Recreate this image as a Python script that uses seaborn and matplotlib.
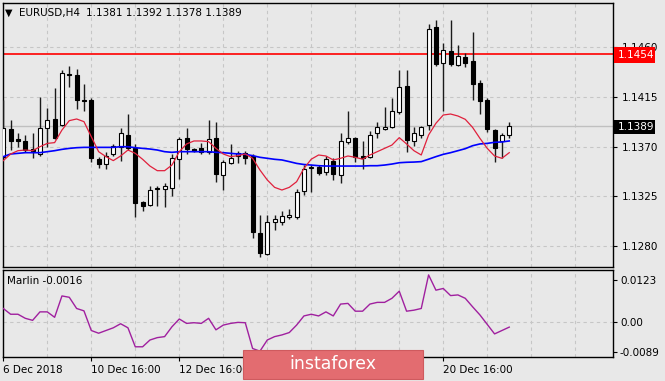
import numpy as np
import pandas as pd
import seaborn as sns
import matplotlib.pyplot as plt
from matplotlib.patches import Rectangle

# EURUSD H4 candles
opens = [1.1361, 1.1386, 1.1377, 1.1375, 1.1368, 1.1363, 1.1387, 1.1395, 1.1390, 1.1436,
         1.1435, 1.1412, 1.1412, 1.1359, 1.1354, 1.1363, 1.1370, 1.1381, 1.1369, 1.1320,
         1.1317, 1.1333, 1.1332, 1.1333, 1.1359, 1.1378, 1.1368, 1.1369, 1.1365, 1.1378,
         1.1344, 1.1355, 1.1362, 1.1364, 1.1362, 1.1292, 1.1273, 1.1302, 1.1302, 1.1306,
         1.1306, 1.1330, 1.1351, 1.1352, 1.1347, 1.1357, 1.1344, 1.1374, 1.1378, 1.1362,
         1.1361, 1.1382, 1.1386, 1.1388, 1.1401, 1.1425, 1.1375, 1.1381, 1.1390, 1.1478,
         1.1446, 1.1457, 1.1444, 1.1451, 1.1448, 1.1428, 1.1412, 1.1385, 1.1375, 1.1381]
highs = [1.1412, 1.1394, 1.1382, 1.1381, 1.1382, 1.1415, 1.1405, 1.1423, 1.1439, 1.1443,
         1.1440, 1.1427, 1.1414, 1.1361, 1.1365, 1.1372, 1.1387, 1.1400, 1.1372, 1.1321,
         1.1334, 1.1334, 1.1337, 1.1363, 1.1379, 1.1387, 1.1369, 1.1373, 1.1394, 1.1392,
         1.1358, 1.1372, 1.1366, 1.1366, 1.1363, 1.1308, 1.1308, 1.1308, 1.1312, 1.1314,
         1.1332, 1.1353, 1.1353, 1.1353, 1.1362, 1.1360, 1.1382, 1.1402, 1.1379, 1.1375,
         1.1384, 1.1392, 1.1406, 1.1414, 1.1439, 1.1439, 1.1388, 1.1389, 1.1481, 1.1485,
         1.1464, 1.1485, 1.1462, 1.1455, 1.1474, 1.1430, 1.1414, 1.1386, 1.1382, 1.1392]
lows = [1.1360, 1.1367, 1.1370, 1.1365, 1.1360, 1.1362, 1.1370, 1.1377, 1.1389, 1.1424,
        1.1404, 1.1402, 1.1356, 1.1351, 1.1350, 1.1362, 1.1357, 1.1367, 1.1306, 1.1312,
        1.1316, 1.1316, 1.1315, 1.1325, 1.1341, 1.1363, 1.1365, 1.1363, 1.1363, 1.1338,
        1.1331, 1.1354, 1.1355, 1.1354, 1.1287, 1.1270, 1.1272, 1.1295, 1.1299, 1.1305,
        1.1305, 1.1326, 1.1329, 1.1344, 1.1344, 1.1340, 1.1337, 1.1372, 1.1356, 1.1350,
        1.1360, 1.1378, 1.1385, 1.1387, 1.1400, 1.1365, 1.1371, 1.1378, 1.1385, 1.1443,
        1.1402, 1.1443, 1.1443, 1.1442, 1.1412, 1.1400, 1.1383, 1.1356, 1.1360, 1.1378]
closes = [1.1387, 1.1375, 1.1375, 1.1367, 1.1366, 1.1387, 1.1394, 1.1378, 1.1437, 1.1435,
          1.1412, 1.1411, 1.1360, 1.1354, 1.1362, 1.1371, 1.1382, 1.1369, 1.1319, 1.1316,
          1.1331, 1.1332, 1.1334, 1.1360, 1.1377, 1.1368, 1.1366, 1.1365, 1.1377, 1.1345,
          1.1356, 1.1360, 1.1364, 1.1360, 1.1293, 1.1274, 1.1302, 1.1305, 1.1307, 1.1308,
          1.1329, 1.1350, 1.1352, 1.1346, 1.1359, 1.1345, 1.1375, 1.1378, 1.1361, 1.1360,
          1.1381, 1.1388, 1.1388, 1.1402, 1.1424, 1.1376, 1.1382, 1.1388, 1.1477, 1.1445,
          1.1458, 1.1445, 1.1452, 1.1446, 1.1427, 1.1411, 1.1386, 1.1369, 1.1381, 1.1389]

# moving averages as drawn (red = fast, blue = slow)
ma_fast = [1.13574, 1.13634, 1.13664, 1.13670, 1.13664, 1.13700, 1.13730, 1.13737, 1.13851, 1.13936,
           1.13951, 1.13927, 1.13791, 1.13655, 1.13610, 1.13574, 1.13616, 1.13670, 1.13640, 1.13586,
           1.13525, 1.13483, 1.13483, 1.13534, 1.13655, 1.13725, 1.13752, 1.13752, 1.13746, 1.13685,
           1.13634, 1.13610, 1.13619, 1.13634, 1.13595, 1.13489, 1.13399, 1.13332, 1.13308, 1.13332,
           1.13383, 1.13504, 1.13587, 1.13625, 1.13616, 1.13580, 1.13595, 1.13616, 1.13604, 1.13587,
           1.13625, 1.13655, 1.13685, 1.13715, 1.13782, 1.13725, 1.13664, 1.13625, 1.13806, 1.13912,
           1.13987, 1.13996, 1.13978, 1.13948, 1.13875, 1.13776, 1.13685, 1.13616, 1.13595, 1.13646]
ma_slow = [1.13610, 1.13634, 1.13640, 1.13646, 1.13646, 1.13646, 1.13655, 1.13664, 1.13676, 1.13685,
           1.13691, 1.13694, 1.13694, 1.13694, 1.13694, 1.13694, 1.13700, 1.13700, 1.13691, 1.13685,
           1.13679, 1.13670, 1.13655, 1.13649, 1.13655, 1.13655, 1.13655, 1.13655, 1.13655, 1.13649,
           1.13646, 1.13640, 1.13634, 1.13631, 1.13619, 1.13604, 1.13595, 1.13586, 1.13580, 1.13565,
           1.13549, 1.13539, 1.13534, 1.13528, 1.13525, 1.13525, 1.13525, 1.13525, 1.13525, 1.13525,
           1.13528, 1.13528, 1.13534, 1.13543, 1.13555, 1.13559, 1.13561, 1.13565, 1.13587, 1.13610,
           1.13631, 1.13646, 1.13664, 1.13682, 1.13709, 1.13725, 1.13730, 1.13740, 1.13743, 1.13752]

# Marlin oscillator
marlin = [0.0039, 0.0022, 0.0022, 0.0010, 0.0004, 0.0029, 0.0029, 0.0013, 0.0076, 0.0072,
          0.0039, 0.0032, -0.0026, -0.0034, -0.0026, -0.0018, -0.0006, -0.0018, -0.0074, -0.0074,
          -0.0054, -0.0047, -0.0044, -0.0015, 0.0008, -0.0005, -0.0003, -0.0005, 0.0010, -0.0024,
          -0.0010, -0.0005, -0.0002, -0.0003, -0.0079, -0.0087, -0.0054, -0.0044, -0.0039, -0.0032,
          -0.0010, 0.0017, 0.0022, 0.0017, 0.0029, 0.0017, 0.0052, 0.0054, 0.0031, 0.0031,
          0.0052, 0.0057, 0.0057, 0.0069, 0.0090, 0.0031, 0.0034, 0.0039, 0.0138, 0.0093,
          0.0098, 0.0077, 0.0079, 0.0069, 0.0044, 0.0020, -0.0008, -0.0036, -0.0026, -0.0016]

level = 1.1454
price_ticks = [1.1460, 1.1415, 1.1370, 1.1325, 1.1280]
ind_ticks = [0.0123, 0.0, -0.0089]
ind_labels = ['0.0123', '0.00', '-0.0089']
# the 14 Dec / 18 Dec labels sit under the watermark in the original
date_pos = [0, 12, 24, 36, 48, 60]
date_labels = ['6 Dec 2018', '10 Dec 16:00', '12 Dec 16:00', '', '', '20 Dec 16:00']

df = pd.DataFrame({'open': opens, 'high': highs, 'low': lows, 'close': closes,
                   'fast': ma_fast, 'slow': ma_slow, 'marlin': marlin})
df['i'] = np.arange(len(df))

W, H = 665, 381
bg = '#e8e8e8'
grid_c = '#c6c6c6'
dash = (0, (3, 3))


def fx(px):
    return px / W


def fy(py):
    return 1 - py / H


fig = plt.figure(figsize=(6.65, 3.81), dpi=100, facecolor=bg)
ax = fig.add_axes([fx(3), fy(267), fx(613) - fx(3), fy(3) - fy(267)], facecolor=bg)
ax2 = fig.add_axes([fx(3), fy(356.5), fx(613) - fx(3), fy(269.5) - fy(356.5)], facecolor=bg)

xlim = (-0.04, 83.15)

# main price panel
for p in price_ticks:
    ax.axhline(p, color=grid_c, lw=0.8, ls=dash, zorder=0)
for k in range(6, 84, 6):
    ax.axvline(k, color=grid_c, lw=0.8, ls=dash, zorder=0)
    ax2.axvline(k, color=grid_c, lw=0.8, ls=dash, zorder=0)

ax.axhline(closes[-1], color='#c0c0c0', lw=1, zorder=1)
ax.axhline(level, color='#ff0000', lw=1.2, zorder=2)

up = df['close'] >= df['open']
ax.vlines(df['i'], df['low'], df['high'], color='#1a1a1a', lw=1, zorder=3)
body = (df['close'] - df['open']).abs().clip(lower=0.00002)
ax.bar(df['i'], body, bottom=df[['open', 'close']].min(axis=1), width=0.55,
       color=np.where(up, 'white', 'black'), edgecolor='black', lw=0.8, zorder=4)

sns.lineplot(data=df, x='i', y='slow', ax=ax, color='#0000ff', lw=1.2, zorder=5)
sns.lineplot(data=df, x='i', y='fast', ax=ax, color='#e0203c', lw=0.9, zorder=6)

ax.set_xlim(*xlim)
ax.set_ylim(1.12611, 1.15001)
ax.set_xlabel('')
ax.set_ylabel('')
ax.set_xticks([])
ax.yaxis.tick_right()
ax.set_yticks(price_ticks)
ax.set_yticklabels([f'{p:.4f}' for p in price_ticks])
ax.tick_params(axis='y', length=3, width=0.8, pad=3, labelsize=7.5, colors='black')

# indicator panel
ax2.axhline(0, color=grid_c, lw=0.8, ls=dash, zorder=0)
sns.lineplot(data=df, x='i', y='marlin', ax=ax2, color='#a0209f', lw=1, zorder=3)
ax2.set_xlim(*xlim)
s = 0.0123 / 41.7
ax2.set_ylim(-34.8 * s, 52.2 * s)
ax2.set_xlabel('')
ax2.set_ylabel('')
ax2.yaxis.tick_right()
ax2.set_yticks(ind_ticks)
ax2.set_yticklabels(ind_labels)
ax2.set_xticks(date_pos)
ax2.set_xticklabels(date_labels, ha='left')
ax2.tick_params(axis='y', length=3, width=0.8, pad=2, labelsize=7.5, colors='black')
ax2.tick_params(axis='x', length=3, width=0.8, pad=3, labelsize=7.5, colors='black')

for a in (ax, ax2):
    for sp in a.spines.values():
        sp.set_color('black')
        sp.set_linewidth(1)

# header texts
fig.text(fx(5), fy(13), '\u25bc', fontsize=7, va='center', ha='left')
fig.text(fx(19), fy(13), 'EURUSD,H4', fontsize=7.5, va='center', ha='left')
fig.text(fx(86), fy(13), '1.1381 1.1392 1.1378 1.1389', fontsize=7.5, va='center', ha='left')
fig.text(fx(7), fy(281), 'Marlin -0.0016', fontsize=7.5, va='center', ha='left')

# price label boxes on the right scale
fig.add_artist(Rectangle((fx(614), fy(62.5)), fx(41), 16 / H, transform=fig.transFigure,
                         facecolor='#ff0000', edgecolor='none', zorder=10))
fig.text(fx(618), fy(54.5), f'{level:.4f}', color='white', fontsize=7.5,
         va='center', ha='left', zorder=11)
fig.add_artist(Rectangle((fx(614), fy(133.5)), fx(41), 14 / H, transform=fig.transFigure,
                         facecolor='black', edgecolor='none', zorder=10))
fig.text(fx(618), fy(126.5), f'{closes[-1]:.4f}', color='white', fontsize=7.5,
         va='center', ha='left', zorder=11)

# watermark
fig.add_artist(Rectangle((fx(243), fy(379)), fx(180), 29 / H, transform=fig.transFigure,
                         facecolor='#e36c70', edgecolor='#cf5a5e', lw=0.8, zorder=12))
fig.text(fx(333), fy(364), 'instaforex', color='white', fontsize=12.5,
         va='center', ha='center', zorder=13)

fig.savefig('out.png', dpi=100, facecolor=bg)
